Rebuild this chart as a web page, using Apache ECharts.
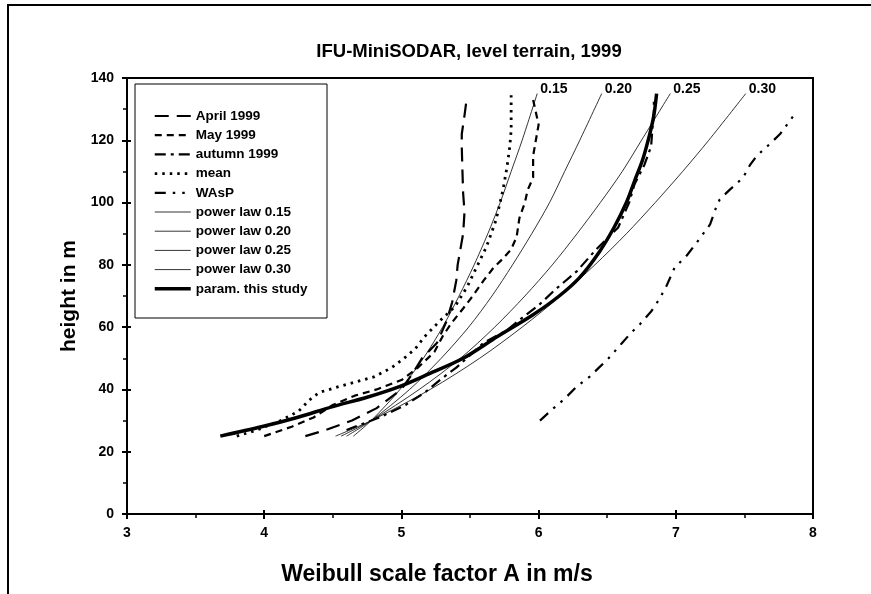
<!DOCTYPE html>
<html>
<head>
<meta charset="utf-8">
<script src="https://cdn.jsdelivr.net/npm/echarts/dist/echarts.min.js"></script>
<style>html,body{margin:0;padding:0;background:#fff;}#c{width:871px;height:594px;}</style>
</head>
<body>
<div id="c"></div>
<script>
// ---- data (A in m/s, height in m) ----
const april = [[4.30,25],[4.45,27],[4.64,30],[4.82,34],[5.00,40],[5.08,45],[5.15,50],[5.26,55],[5.33,62],[5.37,68],[5.40,75],[5.41,80],[5.43,85],[5.45,90],[5.46,97],[5.45,103],[5.445,110],[5.44,118],[5.44,122],[5.46,128],[5.475,133]];
const may = [[4.00,25],[4.20,28],[4.36,31],[4.50,35],[4.66,38],[4.82,40],[5.00,43],[5.12,47],[5.24,52],[5.30,57],[5.36,61],[5.45,66],[5.52,70],[5.60,75],[5.67,79],[5.74,82],[5.80,85],[5.84,89],[5.86,95],[5.90,100],[5.92,104],[5.96,108],[5.96,115],[5.98,120],[6.00,125],[5.98,129],[5.96,133]];
const autumn = [[4.60,27],[4.72,29],[4.84,31],[5.03,35],[5.17,39],[5.28,43],[5.40,47],[5.50,51],[5.60,55],[5.77,59],[5.88,63],[6.00,67],[6.12,72],[6.28,78],[6.42,85],[6.58,92],[6.66,100],[6.70,106],[6.77,112],[6.82,118],[6.83,124],[6.84,129],[6.84,133]];
const mean = [[3.80,25],[3.95,27],[4.12,30],[4.25,33],[4.33,36.6],[4.40,39],[4.55,41],[4.80,44],[4.93,47],[5.02,50],[5.10,53],[5.17,57],[5.28,62],[5.39,66.6],[5.48,73],[5.55,79.4],[5.62,85.8],[5.69,94.4],[5.74,104],[5.77,111.5],[5.79,118],[5.80,123.3],[5.80,134.5]];
const wasp = [[6.01,30],[6.11,34],[6.19,37],[6.28,41],[6.37,44],[6.44,47],[6.51,50],[6.61,55],[6.67,58],[6.74,61],[6.82,65],[6.88,69],[6.93,73],[6.99,79],[7.08,83],[7.15,87],[7.20,90],[7.25,93],[7.29,98],[7.32,101],[7.39,104],[7.49,108],[7.54,112],[7.59,115],[7.69,119],[7.76,122],[7.86,128]];
const plHeights = [25,30,40,50,60,70,80,90,100,110,120,135];
const pl015 = [4.65,4.78,4.99,5.16,5.30,5.42,5.53,5.63,5.72,5.80,5.88,5.99];
const pl020 = [4.60,4.78,5.06,5.29,5.49,5.66,5.81,5.95,6.08,6.19,6.30,6.46];
const pl025 = [4.56,4.78,5.13,5.43,5.68,5.90,6.10,6.28,6.45,6.61,6.75,6.96];
const pl030 = [4.52,4.78,5.21,5.57,5.88,6.16,6.41,6.64,6.85,7.05,7.24,7.51];
const param = [[3.68,25],[3.98,28],[4.24,31],[4.50,34.5],[4.75,37.5],[4.99,41],[5.20,45],[5.45,50],[5.70,57],[5.96,64],[6.15,70],[6.30,76],[6.44,84],[6.55,92],[6.64,100],[6.70,107],[6.76,114],[6.81,122],[6.84,128],[6.86,135]];
const xTicks = [3,4,5,6,7,8];
const yTicks = [0,20,40,60,80,100,120,140];
const legendNames = ['April 1999','May 1999','autumn 1999','mean','WAsP','power law 0.15','power law 0.20','power law 0.25','power law 0.30','param. this study'];

const FONT = '"Liberation Sans", Arial, sans-serif';
const chart = echarts.init(document.getElementById('c'), null, {renderer:'canvas'});

const styles = {
  'April 1999': {w: 2.2, t: [14,8]},
  'May 1999': {w: 2.2, t: [7,5]},
  'autumn 1999': {w: 2.2, t: [11,5,3,5]},
  'mean': {w: 2.8, t: [2.5,5]},
  'WAsP': {w: 2.2, t: [11,7,2.5,7,2.5,7]},
  'power law 0.15': {w: 0.8, t: 'solid'},
  'power law 0.20': {w: 0.8, t: 'solid'},
  'power law 0.25': {w: 0.8, t: 'solid'},
  'power law 0.30': {w: 0.8, t: 'solid'},
  'param. this study': {w: 3.5, t: 'solid'}
};

function line(name, data, extra){
  const s = styles[name];
  return Object.assign({
    name: name, type: 'line', data: data, showSymbol: false, symbol: 'none',
    smooth: false, animation: false, silent: true,
    itemStyle: {color: '#000'},
    lineStyle: {color: '#000', width: s.w, type: s.t}
  }, extra || {});
}
function pl(name, label, vals){
  return line(name, vals.map((a,i)=>[a, plHeights[i]]), {
    smooth: 0.3,
    endLabel: {show: true, formatter: label, color: '#000', fontFamily: FONT, fontWeight: 'bold', fontSize: 14, distance: 3, offset: [0,-4]}
  });
}
const baseX = {type: 'value', min: xTicks[0], max: xTicks[xTicks.length-1], interval: 1, splitLine: {show: false}};
const baseY = {type: 'value', min: yTicks[0], max: yTicks[yTicks.length-1], interval: 20, splitLine: {show: false}};
const lab = {fontFamily: FONT, fontWeight: 'bold', fontSize: 14, color: '#000'};

chart.setOption({
  animation: false,
  backgroundColor: '#fff',
  grid: {left: 127, right: 58, top: 78, bottom: 80, show: true, borderColor: '#000', borderWidth: 2, containLabel: false},
  xAxis: [
    Object.assign({}, baseX, {
      axisLine: {lineStyle: {color: '#000', width: 2}},
      axisTick: {show: true, length: 5, lineStyle: {color: '#000', width: 2}},
      minorTick: {show: true, splitNumber: 2, length: 4, lineStyle: {color: '#000', width: 1.5}},
      axisLabel: Object.assign({margin: 12}, lab)
    }),
    Object.assign({}, baseX, {
      position: 'bottom', axisLine: {show: false}, axisLabel: {show: false},
      axisTick: {show: true, inside: true, length: 4, lineStyle: {color: '#000', width: 2}}
    })
  ],
  yAxis: [
    Object.assign({}, baseY, {
      name: 'height in m', nameLocation: 'middle', nameGap: 43, nameRotate: 90,
      nameTextStyle: {fontFamily: FONT, fontWeight: 'bold', fontSize: 21, color: '#000'},
      axisLine: {lineStyle: {color: '#000', width: 2}},
      axisTick: {show: true, length: 5, lineStyle: {color: '#000', width: 2}},
      minorTick: {show: true, splitNumber: 2, length: 4, lineStyle: {color: '#000', width: 1.5}},
      axisLabel: Object.assign({margin: 13}, lab)
    }),
    Object.assign({}, baseY, {
      position: 'left', axisLine: {show: false}, axisLabel: {show: false},
      axisTick: {show: true, inside: true, length: 4, lineStyle: {color: '#000', width: 2}}
    })
  ],
  legend: {
    orient: 'vertical', left: 153, top: 109, padding: 0,
    itemWidth: 36, itemHeight: 14, itemGap: 5.2,
    itemStyle: {opacity: 0},
    textStyle: {fontFamily: FONT, fontWeight: 'bold', fontSize: 13.5, color: '#000', lineHeight: 14},
    selectedMode: false,
    data: legendNames.map(n => ({name: n, lineStyle: {width: styles[n].w, type: styles[n].t, color: '#000'}}))
  },
  graphic: [
    {type: 'rect', shape: {x: 8, y: 5, width: 900, height: 700}, style: {fill: 'none', stroke: '#000', lineWidth: 2}, silent: true, z: -10},
    {type: 'rect', shape: {x: 135, y: 84, width: 192, height: 234}, style: {fill: '#fff', stroke: '#000', lineWidth: 1}, silent: true, z: 0},
    {type: 'text', x: 469, y: 52, style: {text: 'IFU-MiniSODAR, level terrain, 1999', fill: '#000', font: 'bold 18.5px ' + FONT, textAlign: 'center', textVerticalAlign: 'middle'}, silent: true},
    {type: 'text', x: 437, y: 575, style: {text: 'Weibull scale factor A in m/s', fill: '#000', font: 'bold 23px ' + FONT, textAlign: 'center', textVerticalAlign: 'middle'}, silent: true}
  ],
  series: [
    line('April 1999', april),
    line('May 1999', may),
    line('autumn 1999', autumn),
    line('mean', mean),
    line('WAsP', wasp),
    pl('power law 0.15', '0.15', pl015),
    pl('power law 0.20', '0.20', pl020),
    pl('power law 0.25', '0.25', pl025),
    pl('power law 0.30', '0.30', pl030),
    line('param. this study', param, {smooth: 0.3})
  ]
});
</script>
</body>
</html>
